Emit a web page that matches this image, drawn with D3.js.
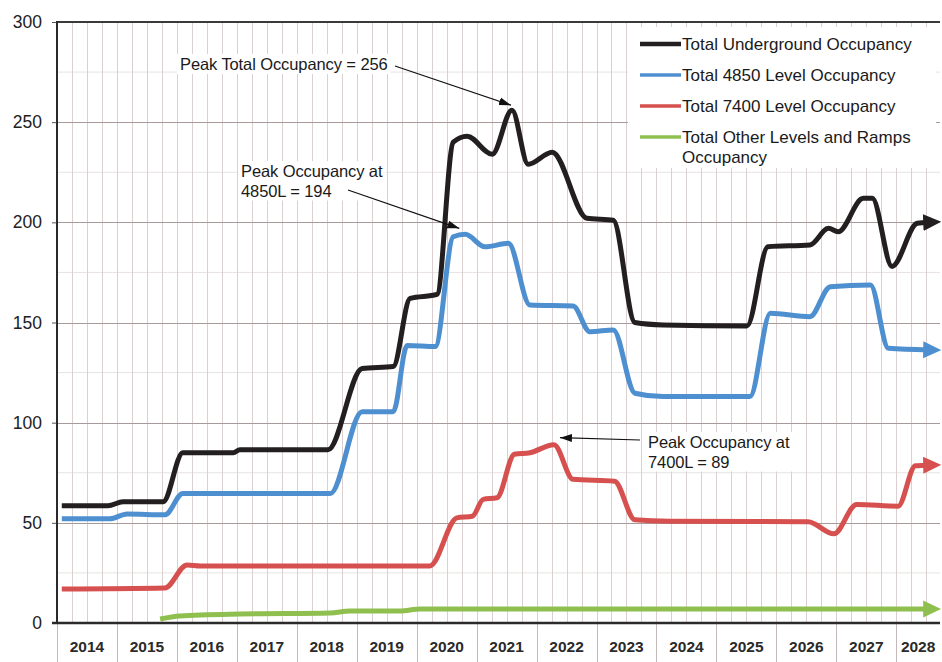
<!DOCTYPE html>
<html>
<head>
<meta charset="utf-8">
<script src="https://cdn.jsdelivr.net/npm/d3@7"></script>
<style>
  html, body { margin: 0; padding: 0; background: #fff; }
  svg { display: block; font-family: "Liberation Sans", Arial, Helvetica, sans-serif; }
</style>
</head>
<body>
<svg id="chart" width="942" height="662"></svg>
<script>
// ---- data -------------------------------------------------------------
const yearLabels = [2014, 2015, 2016, 2017, 2018, 2019, 2020, 2021, 2022, 2023, 2024, 2025, 2026, 2027, 2028];
const yTickValues = [0, 50, 100, 150, 200, 250, 300];

// Total Underground Occupancy (knots: decimal year, persons)
const undergroundYears  = [2014.08, 2014.85, 2015.10, 2015.77, 2016.10, 2016.94, 2017.05, 2018.52, 2019.09, 2019.61, 2019.89, 2020.34, 2020.61, 2020.84, 2021.26, 2021.59, 2021.86, 2022.26, 2022.84, 2023.28, 2023.64, 2024.11, 2025.51, 2025.86, 2026.56, 2026.87, 2027.03, 2027.45, 2027.60, 2027.93, 2028.35, 2028.55];
const undergroundValues = [58.5, 58.5, 60.5, 60.5, 85, 85, 86.5, 86.5, 127, 128, 162, 164, 240, 243, 234, 256, 229, 235, 202, 201, 150, 148.8, 148.3, 187.8, 188.7, 197, 195.3, 212, 212, 178, 199.5, 200];

// Total 4850 Level Occupancy
const level4850Years  = [2014.08, 2014.88, 2015.17, 2015.80, 2016.10, 2018.56, 2019.09, 2019.61, 2019.84, 2020.31, 2020.61, 2020.81, 2021.14, 2021.53, 2021.89, 2022.61, 2022.89, 2023.28, 2023.64, 2024.11, 2025.56, 2025.90, 2026.56, 2026.90, 2027.57, 2027.87, 2028.55];
const level4850Values = [52, 52, 54.4, 54, 64.7, 64.7, 105.5, 105.5, 138.5, 138, 192.8, 194, 187.8, 189.5, 158.7, 158.2, 145.4, 146.3, 114.7, 113, 113, 154.6, 152.9, 167.9, 168.7, 137.1, 136.3];

// Total 7400 Level Occupancy
const level7400Years  = [2014.08, 2015.80, 2016.17, 2016.39, 2020.22, 2020.67, 2020.93, 2021.11, 2021.34, 2021.63, 2021.89, 2022.29, 2022.61, 2023.30, 2023.64, 2024.23, 2026.53, 2026.96, 2027.34, 2028.03, 2028.32, 2028.55];
const level7400Values = [17, 17.5, 29, 28.5, 28.5, 52.5, 53.3, 61.7, 62.5, 84.2, 85, 89, 71.7, 70.8, 51.5, 50.8, 50.5, 44.5, 59.2, 58.3, 78.5, 78.8];

// Total Other Levels and Ramps Occupancy
const otherYears  = [2015.72, 2016.05, 2017.05, 2018.56, 2018.89, 2019.72, 2020.06, 2028.55];
const otherValues = [2, 3.5, 4.5, 5, 6, 6, 7, 7];

const seriesNames  = ["Total Underground Occupancy", "Total 4850 Level Occupancy", "Total 7400 Level Occupancy", "Total Other Levels and Ramps Occupancy"];
const seriesColors = ["#231f20", "#4e8fd0", "#d5504e", "#8fc04f"];

// ---- layout -----------------------------------------------------------
const svg = d3.select("#chart");
const plotLeft = 57, plotRight = 940, plotTop = 22, plotBottom = 623;

const x = d3.scaleLinear().domain([2014, 2028.73]).range([plotLeft, plotRight]);
const y = d3.scaleLinear().domain([0, 300]).range([plotBottom, plotTop]);

// minor horizontal grid (every 25)
svg.append("g").selectAll("line")
  .data(d3.range(25, 300, 50))
  .join("line")
  .attr("x1", plotLeft).attr("x2", plotRight)
  .attr("y1", d => y(d)).attr("y2", d => y(d))
  .attr("stroke", "#e8e2e2").attr("stroke-width", 1);

// quarterly vertical grid
svg.append("g").selectAll("line")
  .data(d3.range(2014.25, 2028.74, 0.25))
  .join("line")
  .attr("x1", d => Math.round(x(d)) + 0.5).attr("x2", d => Math.round(x(d)) + 0.5)
  .attr("y1", plotTop).attr("y2", plotBottom)
  .attr("stroke", "#dbcfcf").attr("stroke-width", 1);

// major horizontal grid (every 50)
svg.append("g").selectAll("line")
  .data(yTickValues.filter(v => v > 0 && v < 300))
  .join("line")
  .attr("x1", plotLeft).attr("x2", plotRight)
  .attr("y1", d => Math.round(y(d)) + 0.5).attr("y2", d => Math.round(y(d)) + 0.5)
  .attr("stroke", "#a89a9a").attr("stroke-width", 1.2);

// year separators in the label band
svg.append("g").selectAll("line")
  .data(yearLabels)
  .join("line")
  .attr("x1", d => Math.round(x(d)) + 0.5).attr("x2", d => Math.round(x(d)) + 0.5)
  .attr("y1", plotBottom).attr("y2", 662)
  .attr("stroke", "#c4b8b8").attr("stroke-width", 1);

// year labels centred in each year band
svg.append("g").selectAll("text")
  .data(yearLabels)
  .join("text")
  .attr("x", d => x((d + Math.min(d + 1, 2028.73)) / 2))
  .attr("y", 652)
  .attr("text-anchor", "middle")
  .attr("font-size", 15.5)
  .attr("font-weight", "bold")
  .attr("fill", "#2a2a2a")
  .text(d => d);

// y axis
const yAxis = d3.axisLeft(y).tickValues(yTickValues).tickSize(5).tickPadding(10).tickFormat(d3.format("d"));
const gy = svg.append("g").attr("transform", `translate(${plotLeft},0)`).call(yAxis);
gy.select(".domain").remove();
gy.selectAll(".tick line").attr("stroke", "#555");
gy.selectAll(".tick text").attr("font-size", 17.5).attr("fill", "#222")
  .attr("font-family", "'Liberation Sans', Arial, sans-serif");

// frame
svg.append("line").attr("x1", plotLeft).attr("x2", plotRight).attr("y1", plotTop).attr("y2", plotTop)
  .attr("stroke", "#3a3a3a").attr("stroke-width", 2);
svg.append("line").attr("x1", plotLeft).attr("x2", plotLeft).attr("y1", plotTop - 1).attr("y2", plotBottom)
  .attr("stroke", "#2a2a2a").attr("stroke-width", 2);
svg.append("line").attr("x1", plotLeft - 5).attr("x2", plotRight).attr("y1", plotBottom).attr("y2", plotBottom)
  .attr("stroke", "#2a2a2a").attr("stroke-width", 2.5);

// arrowhead markers for series ends
const defs = svg.append("defs");
seriesColors.forEach((c, i) => {
  defs.append("marker")
    .attr("id", "end" + i)
    .attr("markerUnits", "userSpaceOnUse")
    .attr("viewBox", "0 -9 18 18")
    .attr("markerWidth", 18).attr("markerHeight", 18)
    .attr("refX", 6).attr("refY", 0)
    .attr("orient", "auto")
    .append("path").attr("d", "M0,-8.5L18,0L0,8.5Z").attr("fill", c);
});
defs.append("marker")
  .attr("id", "note")
  .attr("markerUnits", "userSpaceOnUse")
  .attr("viewBox", "0 -5 12 10")
  .attr("markerWidth", 12).attr("markerHeight", 10)
  .attr("refX", 12).attr("refY", 0)
  .attr("orient", "auto")
  .append("path").attr("d", "M0,-4L12,0L0,4Z").attr("fill", "#111");

// series lines
const series = [
  { years: otherYears, values: otherValues, color: 3 },
  { years: level7400Years, values: level7400Values, color: 2 },
  { years: level4850Years, values: level4850Values, color: 1 },
  { years: undergroundYears, values: undergroundValues, color: 0 }
];
const line = d3.line().x(d => x(d[0])).y(d => y(d[1])).curve(d3.curveMonotoneX);
svg.append("g").selectAll("path")
  .data(series)
  .join("path")
  .attr("d", s => line(d3.zip(s.years, s.values)))
  .attr("fill", "none")
  .attr("stroke", s => seriesColors[s.color])
  .attr("stroke-width", 5)
  .attr("stroke-linejoin", "round")
  .attr("marker-end", s => `url(#end${s.color})`);

// legend
const lg = svg.append("g");
lg.append("rect").attr("x", 628).attr("y", 27).attr("width", 308).attr("height", 141).attr("fill", "#fff");
const legendRows = [44, 75, 106, 137];
seriesNames.forEach((name, i) => {
  lg.append("line").attr("x1", 640).attr("x2", 681)
    .attr("y1", legendRows[i]).attr("y2", legendRows[i])
    .attr("stroke", seriesColors[i]).attr("stroke-width", i === 0 ? 4.5 : 3.5);
  const words = i === 3 ? ["Total Other Levels and Ramps", "Occupancy"] : [name];
  const t = lg.append("text").attr("x", 682).attr("y", legendRows[i] + 6)
    .attr("font-size", 17).attr("fill", "#1a1a1a");
  words.forEach((w, k) => t.append("tspan").attr("x", 682).attr("dy", k ? 19.5 : 0).text(w));
});

// peak annotations
const peakTotal = d3.maxIndex(undergroundValues);
const peak4850 = d3.maxIndex(level4850Values);
const peak7400 = d3.maxIndex(level7400Values);
const notes = [
  { lines: [`Peak Total Occupancy = ${undergroundValues[peakTotal]}`], tx: 180, ty: 70,
    from: [395, 66], to: [x(undergroundYears[peakTotal]) - 1, y(undergroundValues[peakTotal]) - 5] },
  { lines: ["Peak Occupancy at", `4850L = ${level4850Values[peak4850]}`], tx: 241, ty: 177,
    from: [348, 190], to: [x(level4850Years[peak4850]) - 6, y(level4850Values[peak4850]) - 6] },
  { lines: ["Peak Occupancy at", `7400L = ${level7400Values[peak7400]}`], tx: 648, ty: 448,
    from: [640, 440], to: [x(level7400Years[peak7400]) + 6, y(level7400Values[peak7400]) - 7] }
];
const ng = svg.append("g");
notes.forEach(n => {
  const t = ng.append("text").attr("x", n.tx).attr("y", n.ty)
    .attr("font-size", 16.5).attr("letter-spacing", -0.1).attr("fill", "#1a1a1a");
  n.lines.forEach((l, k) => t.append("tspan").attr("x", n.tx).attr("dy", k ? 19.5 : 0).text(l));
  const b = t.node().getBBox();
  ng.insert("rect", () => t.node())
    .attr("x", b.x - 3).attr("y", b.y - 1).attr("width", b.width + 6).attr("height", b.height + 2)
    .attr("fill", "#fff");
  ng.append("line")
    .attr("x1", n.from[0]).attr("y1", n.from[1]).attr("x2", n.to[0]).attr("y2", n.to[1])
    .attr("stroke", "#111").attr("stroke-width", 1.2)
    .attr("marker-end", "url(#note)");
});
</script>
</body>
</html>
